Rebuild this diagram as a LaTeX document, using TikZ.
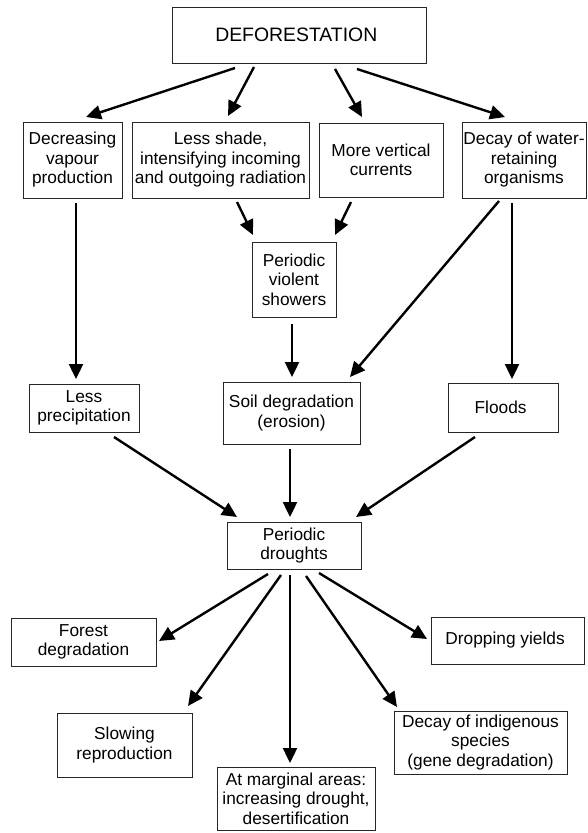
\documentclass[tikz,border=0pt]{standalone}
\usepackage{fontspec}
\setmainfont{Liberation Sans}
\usetikzlibrary{arrows.meta}

\begin{document}
\begin{tikzpicture}[x = 1pt, y = -1pt]
  \tikzstyle{effect}=[rectangle, draw = black!85, line width = 0.7pt, align = center, inner sep = 0pt, outer sep = 0pt, font = \fontsize{17.3}{19.5}\selectfont]
  \tikzstyle{connect}=[-{Triangle[length = 15pt, width = 14pt]}, line width = 2.4pt]

  \useasboundingbox (0,0) rectangle (587,833);

  \node[effect, minimum width = 254pt, minimum height = 56pt, font = \fontsize{19.4}{22}\selectfont] (defo) at (299,35) { DEFORESTATION };

  \node[effect, minimum width = 99pt, minimum height = 76pt] (vapour) at (72.5,160) { Decreasing\\vapour\\production };
  \node[effect, minimum width = 177pt, minimum height = 76pt] (shade) at (220.5,160) { Less shade,\\intensifying incoming\\and outgoing radiation };
  \node[effect, minimum width = 124pt, minimum height = 74pt] (curr) at (381,160) { More vertical\\currents };
  \node[effect, minimum width = 124pt, minimum height = 76pt] (decay) at (524,160) { Decay of water-\\retaining\\organisms };

  \node[effect, minimum width = 84pt, minimum height = 75pt] (showers) at (294,279.5) { Periodic\\violent\\showers };

  \node[effect, minimum width = 110pt, minimum height = 48pt] (precip) at (84,408) { Less\\precipitation };
  \node[effect, minimum width = 137pt, minimum height = 62pt] (soil) at (291.5,413) { Soil degradation\\(erosion) };
  \node[effect, minimum width = 110pt, minimum height = 49pt] (floods) at (503,407.5) { Floods };

  \node[effect, minimum width = 134pt, minimum height = 47pt] (drought) at (294,545.5) { Periodic\\droughts };

  \node[effect, minimum width = 145pt, minimum height = 48pt] (forest) at (83.5,642) { Forest\\degradation };
  \node[effect, minimum width = 153pt, minimum height = 47pt] (yields) at (507.5,640.5) { Dropping yields };
  \node[effect, minimum width = 135pt, minimum height = 64pt] (slowing) at (124.5,745) { Slowing\\reproduction };
  \node[effect, minimum width = 173pt, minimum height = 63pt] (species) at (480.5,742.5) { Decay of indigenous\\species\\(gene degradation) };
  \node[effect, minimum width = 158pt, minimum height = 63pt] (marginal) at (296,798.5) { At marginal areas:\\increasing drought,\\desertification };

  % deforestation to its first effects
  \path ([shift = {(-64,5)}]defo.south) edge [connect] ([shift = {(13.5,-5)}]vapour.north)
        ([shift = {(-45,4)}]defo.south) edge [connect] ([shift = {(7.5,-6)}]shade.north)
        ([shift = {(36,6)}]defo.south) edge [connect] ([shift = {(-19,-6)}]curr.north)
        ([shift = {(58,6)}]defo.south) edge [connect] ([shift = {(-19,-5)}]decay.north);

  \path ([shift = {(16.5,4)}]shade.south) edge [connect] ([shift = {(-41,-7)}]showers.north)
        ([shift = {(-30,5)}]curr.south) edge [connect] ([shift = {(41,-7)}]showers.north);

  \path ([shift = {(3.5,5)}]vapour.south) edge [connect] ([shift = {(-8,-5)}]precip.north)
        ([shift = {(-2,7)}]showers.south) edge [connect] ([shift = {(0.5,-5)}]soil.north)
        ([shift = {(-25,3)}]decay.south) edge [connect] ([shift = {(58.5,-5)}]soil.north)
        ([shift = {(-12,5)}]decay.south) edge [connect] ([shift = {(9,-4)}]floods.north);

  \path ([shift = {(30,5)}]precip.south) edge [connect] ([shift = {(-57,-5)}]drought.north)
        ([shift = {(-1.5,5)}]soil.south) edge [connect] ([shift = {(-4,-5)}]drought.north)
        ([shift = {(-28,5)}]floods.south) edge [connect] ([shift = {(62,-5)}]drought.north);

  % droughts and what follows
  \path ([shift = {(-26,5)}]drought.south) edge [connect] ([shift = {(3,-1)}]forest.east)
        ([shift = {(-13,6)}]drought.south) edge [connect] ([shift = {(63.5,-7)}]slowing.north)
        ([shift = {(-4,6)}]drought.south) edge [connect] ([shift = {(-6,-4)}]marginal.north)
        ([shift = {(12,7)}]drought.south) edge [connect] ([shift = {(-83.5,-4)}]species.north)
        ([shift = {(25,4)}]drought.south) edge [connect] ([shift = {(-4,-1.5)}]yields.west);

\end{tikzpicture}
\end{document}
